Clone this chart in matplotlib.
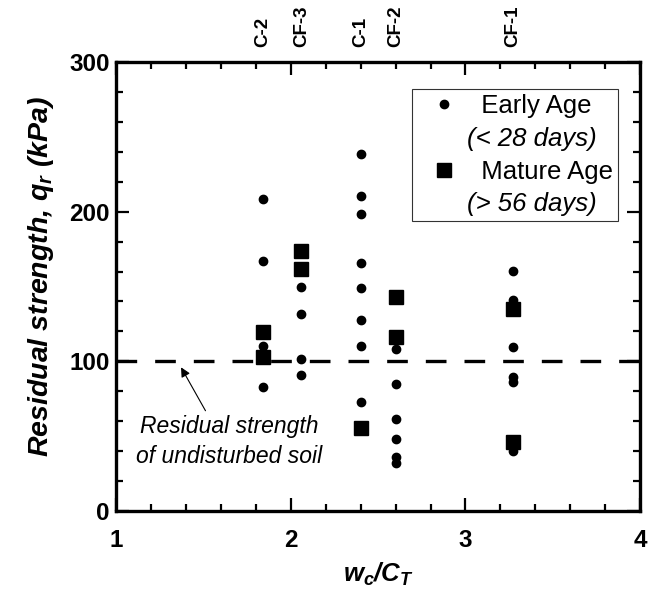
import matplotlib
matplotlib.use("Agg")
import matplotlib.pyplot as plt
from matplotlib.ticker import MultipleLocator

plt.rcParams['font.family'] = ['Liberation Sans', 'DejaVu Sans']
plt.rcParams['mathtext.fontset'] = 'custom'
plt.rcParams['mathtext.it'] = 'Liberation Sans:bold:italic'
plt.rcParams['mathtext.rm'] = 'Liberation Sans:bold:italic'
plt.rcParams['mathtext.bf'] = 'Liberation Sans:bold:italic'

# amostras (eixo superior)
amostras = ["C-2", "CF-3", "C-1", "CF-2", "CF-1"]
wc_ct = [1.84, 2.06, 2.40, 2.60, 3.27]

# idade inicial (< 28 dias)
qr_inicial = [
    [208.5, 167.2, 110.4, 82.8],
    [149.7, 131.6, 101.6, 90.9],
    [238.3, 210.5, 198.2, 165.5, 149.2, 127.6, 110.2, 72.8],
    [108.0, 84.9, 61.3, 48.3, 35.9, 32.3],
    [160.4, 141.0, 109.4, 89.7, 86.4, 40.3],
]
# idade madura (> 56 dias)
qr_maduro = [
    [119.8, 103.1],
    [173.7, 161.5],
    [55.7],
    [143.2, 116.5],
    [135.0, 46.3],
]
qr_solo = 100

fig = plt.figure(figsize=(6.49, 5.94), dpi=100)
ax = fig.add_axes([0.1795, 0.1397, 0.8066, 0.7559])

xi, yi, xm, ym = [], [], [], []
for x, vals in zip(wc_ct, qr_inicial):
    xi += [x] * len(vals)
    yi += vals
for x, vals in zip(wc_ct, qr_maduro):
    xm += [x] * len(vals)
    ym += vals

ax.plot(xi, yi, "o", color="black", markersize=6, label="  Early Age", zorder=3)
ax.plot([], [], " ", label="(< 28 days)")
ax.plot(xm, ym, "s", color="black", markersize=10, label="  Mature Age", zorder=3)
ax.plot([], [], " ", label="(> 56 days)")

ax.axhline(qr_solo, color="black", lw=2.4, dashes=(6.2, 5.4), zorder=2)

# seta + texto do solo nao perturbado
ax.annotate("", xy=(1.37, 96), xytext=(1.51, 67),
            arrowprops=dict(arrowstyle="-|>", color="black", lw=0.8, mutation_scale=14,
                            shrinkA=0, shrinkB=0))
ax.text(1.645, 64, "Residual strength\nof undisturbed soil", fontsize=16.5, style="italic",
        ha="center", va="top", linespacing=1.35)

ax.set_xlim(1, 4)
ax.set_ylim(0, 300)
ax.xaxis.set_major_locator(MultipleLocator(1))
ax.xaxis.set_minor_locator(MultipleLocator(0.2))
ax.yaxis.set_major_locator(MultipleLocator(100))
ax.yaxis.set_minor_locator(MultipleLocator(20))
ax.tick_params(which="both", direction="in", top=True, right=True, width=1.6)
ax.tick_params(which="major", length=9.5, labelsize=17.5)
ax.tick_params(which="minor", length=5)
ax.tick_params(axis="x", which="major", pad=13)
ax.tick_params(axis="y", which="major", pad=5)
for lab in ax.get_xticklabels() + ax.get_yticklabels():
    lab.set_fontweight("bold")
for s in ax.spines.values():
    s.set_linewidth(2.4)

ax.set_xlabel(r"$w_c/C_T$", fontsize=18.5, labelpad=6)
ax.set_ylabel(r"Residual strength, $q_r$ (kPa)", fontsize=20.5, fontweight="bold",
              style="italic")
ax.yaxis.set_label_coords(-0.115, 0.523)

sec = ax.secondary_xaxis("top")
sec.set_xticks(wc_ct)
sec.set_xticklabels(amostras, rotation=90, fontsize=13.5, fontweight="bold")
sec.tick_params(length=0, pad=11)
sec.spines["top"].set_visible(False)

leg = ax.legend(loc="upper right", bbox_to_anchor=(0.958, 0.94), fontsize=18.5,
                frameon=True, fancybox=False, edgecolor="black", handletextpad=-0.13,
                labelspacing=0.34, borderpad=0.2, handlelength=2.06, borderaxespad=0)
leg.get_frame().set_linewidth(0.8)
for i, t in enumerate(leg.get_texts()):
    if i % 2 == 1:
        t.set_style("italic")

fig.savefig("out.png", dpi=100)
